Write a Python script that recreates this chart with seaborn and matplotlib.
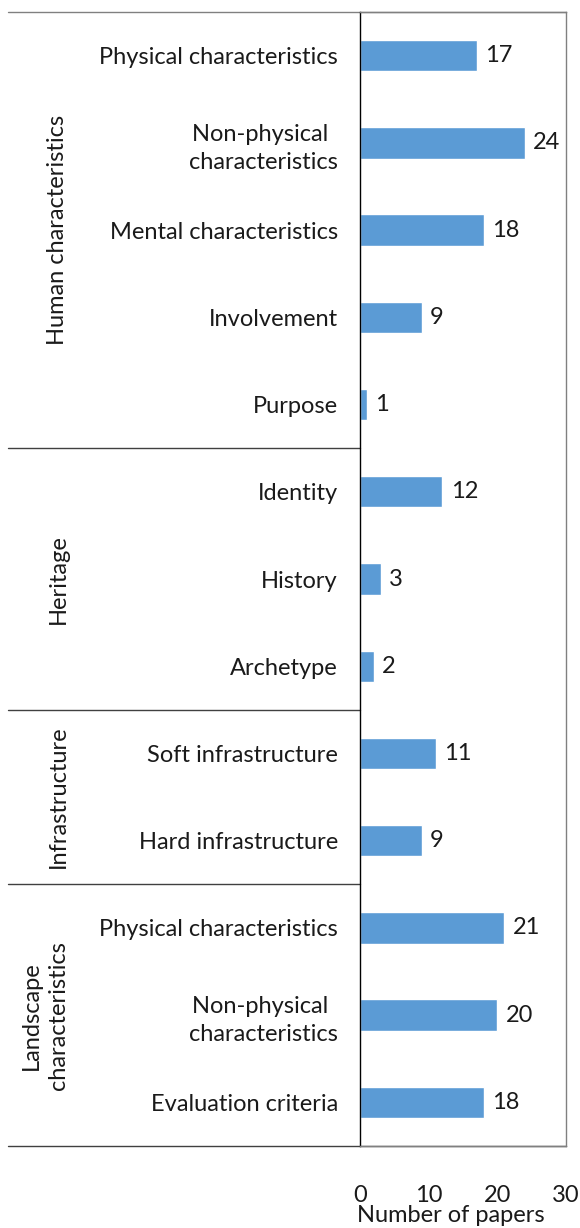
import numpy as np
import pandas as pd
import matplotlib.pyplot as plt
import matplotlib.transforms as mtransforms
import seaborn as sns

# Dados
grupos = ['Human characteristics', 'Heritage', 'Infrastructure', 'Landscape\ncharacteristics']
itens_por_grupo = [
    ['Physical characteristics', 'Non-physical \ncharacteristics', 'Mental characteristics', 'Involvement', 'Purpose'],
    ['Identity', 'History', 'Archetype'],
    ['Soft infrastructure', 'Hard infrastructure'],
    ['Physical characteristics', 'Non-physical \ncharacteristics', 'Evaluation criteria'],
]
valores = [17, 24, 18, 9, 1, 12, 3, 2, 11, 9, 21, 20, 18]

itens = [i for g in itens_por_grupo for i in g]
chaves = [f'{n}|{i}' for n, g in enumerate(itens_por_grupo) for i in g]
df = pd.DataFrame({'chave': chaves, 'item': itens, 'valor': valores})

sns.set_style('white')
plt.rcParams['font.family'] = ['Lato', 'DejaVu Sans']
fs = 17
cor_txt = '#1a1a1a'

W, H = 580, 1228
fig = plt.figure(figsize=(W / 100, H / 100), dpi=100)
x0, x1, y0, y1 = 360, 566, 12, 1146
ax = fig.add_axes([x0 / W, 1 - y1 / H, (x1 - x0) / W, (y1 - y0) / H])

sns.barplot(data=df, x='valor', y='chave', orient='h', color='#5B9BD5',
            width=0.36, saturation=1, ax=ax)
ax.bar_label(ax.containers[0], padding=6, fontsize=fs, color=cor_txt)

n = len(itens)
ax.set_xlim(0, 30)
ax.set_xticks([0, 10, 20, 30])
ax.set_yticks(range(n))
ax.set_yticklabels(itens, fontsize=fs, color=cor_txt, multialignment='center', linespacing=1.4)
ax.tick_params(axis='y', length=0, pad=16)
ax.tick_params(axis='x', length=0, pad=28, labelsize=fs, labelcolor=cor_txt)
ax.set_ylabel('')
ax.set_xlabel('Number of papers', fontsize=fs, color=cor_txt)
ax.xaxis.set_label_coords((451 - x0) / (x1 - x0), -(1216 - y1) / (y1 - y0))
ax.xaxis.label.set_va('center')

# bordas
for s in ['top', 'right', 'bottom']:
    ax.spines[s].set_color('#808080')
    ax.spines[s].set_linewidth(1)
ax.spines['left'].set_color('black')
ax.spines['left'].set_linewidth(1)

esq = (8 - x0) / (x1 - x0)
trans = mtransforms.blended_transform_factory(ax.transAxes, ax.transData)
limites = np.cumsum([len(g) for g in itens_por_grupo])
ax.plot([esq, 1], [-0.5, -0.5], transform=trans, color='#808080', lw=1, clip_on=False)
ax.plot([esq, 1], [n - 0.5, n - 0.5], transform=trans, color='#404040', lw=1, clip_on=False)
for b in limites[:-1]:
    ax.plot([esq, 0], [b - 0.5, b - 0.5], transform=trans, color='#404040', lw=1, clip_on=False)
ax.set_ylim(n - 0.5, -0.5)

inicio = 0
for g, itens_g in zip(grupos, itens_por_grupo):
    centro = inicio + (len(itens_g) - 1) / 2
    xc = (58 - x0) / (x1 - x0) if '\n' not in g else (45 - x0) / (x1 - x0)
    ax.text(xc, centro, g, transform=trans, rotation=90, ha='center', va='center',
            fontsize=fs, color=cor_txt, multialignment='center', linespacing=1.35)
    inicio += len(itens_g)

plt.savefig('out.png', dpi=100)
